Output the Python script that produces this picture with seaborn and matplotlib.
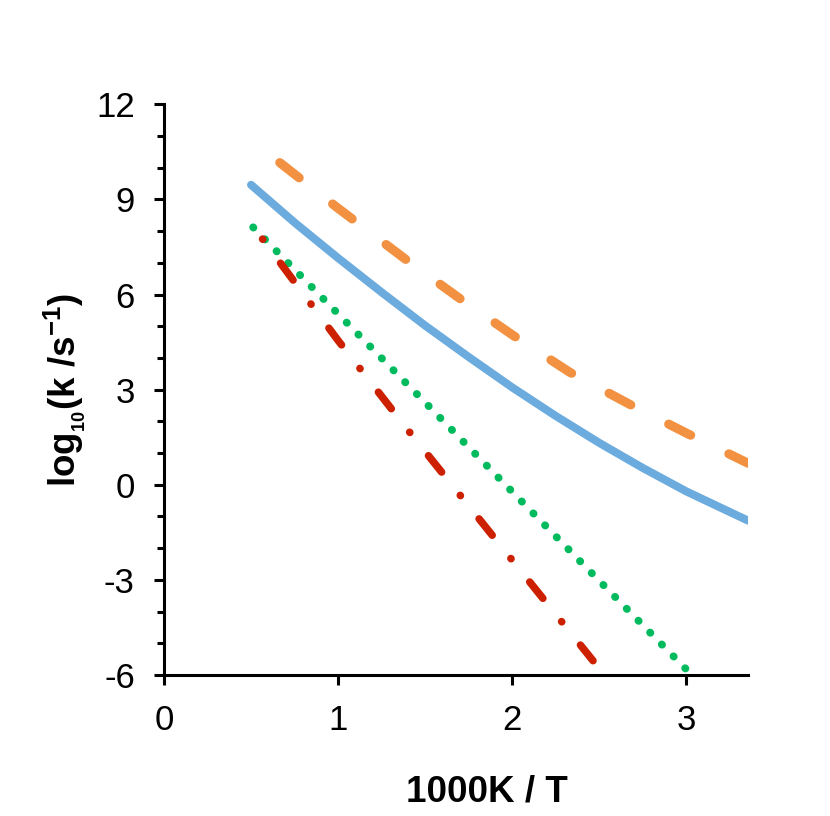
import numpy as np
import pandas as pd
import seaborn as sb
import matplotlib
matplotlib.use('Agg')
import matplotlib.pyplot as plt
from matplotlib.ticker import MultipleLocator

# values (x = 1000K/T, y = log10 k)
blue_x = [0.5, 0.75, 1.0, 1.25, 1.5, 1.75, 2.0, 2.25, 2.5, 2.75, 3.0, 3.25, 3.354]
blue_y = [9.46, 8.27, 7.15, 6.07, 5.02, 4.03, 3.07, 2.17, 1.32, 0.53, -0.21, -0.86, -1.13]

orange_x = [0.665, 1.0, 1.4, 1.7, 2.0, 2.33, 2.67, 3.0, 3.354]
orange_y = [10.16, 8.72, 7.06, 5.87, 4.73, 3.55, 2.55, 1.63, 0.68]

green_x = [0.512, 1.0, 1.524, 2.0, 2.5, 3.01]
green_y = [8.12, 5.39, 2.46, -0.22, -3.03, -5.88]

red_x = [0.566, 1.0, 1.409, 2.0, 2.464]
red_y = [7.75, 4.55, 1.67, -2.38, -5.55]

x_ticks = [0, 1, 2, 3]
y_ticks = [-6, -3, 0, 3, 6, 9, 12]

sb.set_style('ticks')
plt.rcParams['font.family'] = ['Liberation Sans', 'DejaVu Sans']
plt.rcParams['axes.unicode_minus'] = False
plt.rcParams['mathtext.default'] = 'regular'

fig = plt.figure(figsize=(8.3, 8.16), dpi=100)
ax = fig.add_axes([164/830, 1 - 675/816, 584/830, 570.7/816])

sb.lineplot(x=blue_x, y=blue_y, ax=ax, color='#6CABDD', lw=5.8,
            solid_capstyle='round', solid_joinstyle='round', sort=False)
sb.lineplot(x=orange_x, y=orange_y, ax=ax, color='#F29141', lw=6.6,
            linestyle=(0, (2.68, 4.64)), dash_capstyle='round', sort=False)
sb.lineplot(x=green_x, y=green_y, ax=ax, color='#00BA5E', lw=5.6,
            linestyle=(0, (0.05, 2.095)), dash_capstyle='round', sort=False,
            clip_on=False)
sb.lineplot(x=red_x, y=red_y, ax=ax, color='#CC2000', lw=5.4,
            linestyle=(0, (0.05, 3.97, 2.8, 3.97)), dash_capstyle='round',
            sort=False)

ax.set_xlim(0, 3.354)
ax.set_ylim(-6, 12)
ax.set_xticks(x_ticks)
ax.set_yticks(y_ticks)
ax.yaxis.set_minor_locator(MultipleLocator(1))

for s in ['top', 'right']:
    ax.spines[s].set_visible(False)
for s in ['left', 'bottom']:
    ax.spines[s].set_linewidth(2.2)
    ax.spines[s].set_color('black')

ax.tick_params(axis='both', which='major', direction='out', length=7,
               width=2.2, labelsize=25, pad=14, colors='black')
ax.tick_params(axis='y', which='minor', direction='out', length=5, width=2.2,
               colors='black')

ax.set_xlabel('1000K / T', fontsize=26.5, fontweight='bold', labelpad=27,
              color='black')
ax.xaxis.label.set_x(0.553)
ax.set_ylabel('log$_{_{10}}$(k /s$^{-1}$)', fontsize=26.5, fontweight='bold',
              labelpad=6, color='black')

plt.savefig('out.png', dpi=100)
